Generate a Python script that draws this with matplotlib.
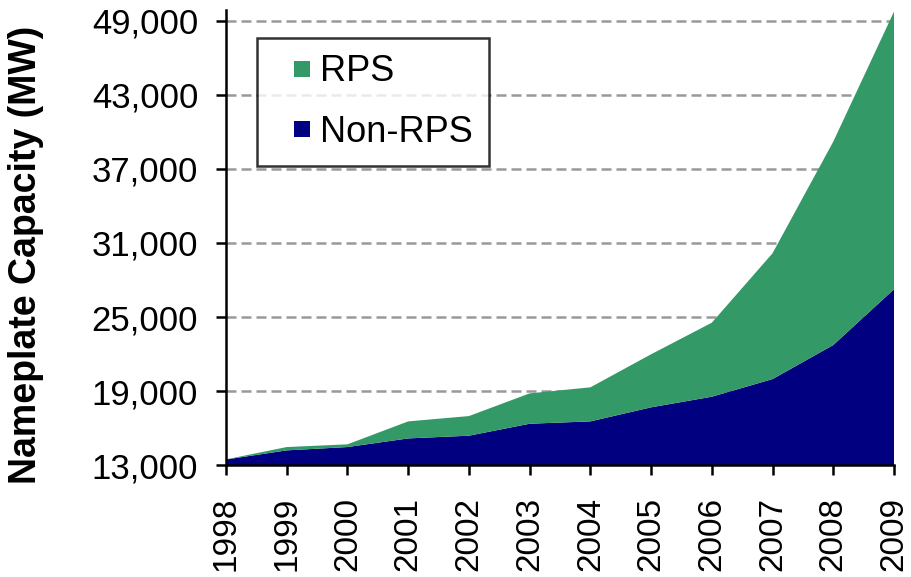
"""
Stacked area chart of nameplate capacity, RPS vs Non-RPS
"""
import matplotlib
matplotlib.use("Agg")
from matplotlib import pyplot as plt
from matplotlib.lines import Line2D

FONT = "Liberation Sans"
GREEN = "#339966"
NAVY = "#000080"

years = [1998, 1999, 2000, 2001, 2002, 2003, 2004, 2005, 2006, 2007, 2008, 2009]
non_rps = [13450, 14190, 14460, 15160, 15380, 16350, 16540, 17680, 18540, 19970, 22730, 27250]
rps = [10, 270, 220, 1380, 1590, 2460, 2760, 4300, 6000, 10200, 16490, 22510]
y_ticks = [13000, 19000, 25000, 31000, 37000, 43000, 49000]

plt.rcParams['font.family'] = [FONT, 'DejaVu Sans']

fig = plt.figure(figsize=(9.12, 5.77), dpi=100)
ax = fig.add_axes([0.2478, 0.194, 0.7325, 0.789])

ax.stackplot(years, non_rps, rps, colors=[NAVY, GREEN], linewidth=0)

ax.set_xlim(years[0], years[-1])
ax.set_ylim(13000, 49900)
ax.set_yticks(y_ticks)
ax.set_yticklabels([f"{v:,}" for v in y_ticks])
ax.set_xticks(years)
ax.set_xticklabels([str(y) for y in years], rotation=90)

# Dashed horizontal gridlines
for v in y_ticks[1:]:
    ax.axhline(v, color="#999999", linestyle=(0, (4, 2)), linewidth=1.8, zorder=0.5)

ax.spines['top'].set_visible(False)
ax.spines['right'].set_visible(False)
ax.spines['left'].set_linewidth(1.8)
ax.spines['bottom'].set_linewidth(1.8)
ax.spines['left'].set_zorder(3)
ax.spines['bottom'].set_zorder(3)

ax.tick_params(axis='y', direction='out', length=7, width=1.8, labelsize=25, pad=13)
ax.tick_params(axis='x', direction='out', length=7, width=1.8, labelsize=24, pad=16)

ax.set_ylabel("Nameplate Capacity (MW)", fontsize=27, fontweight='bold')
ax.yaxis.set_label_coords(-0.272, 0.462)

handles = [Line2D([], [], marker='s', markersize=12, linestyle='none',
                  markerfacecolor=GREEN, markeredgewidth=0, label="RPS"),
           Line2D([], [], marker='s', markersize=12, linestyle='none',
                  markerfacecolor=NAVY, markeredgewidth=0, label="Non-RPS")]
leg = ax.legend(handles=handles, loc='upper left', bbox_to_anchor=(0.0464, 0.938),
                fontsize=26, frameon=True, fancybox=False, edgecolor='black',
                handlelength=1.57, handletextpad=-0.27,
                labelspacing=0.7, borderpad=0.45, borderaxespad=0)
leg.get_frame().set_linewidth(1.8)

fig.savefig("out.png", dpi=100)
